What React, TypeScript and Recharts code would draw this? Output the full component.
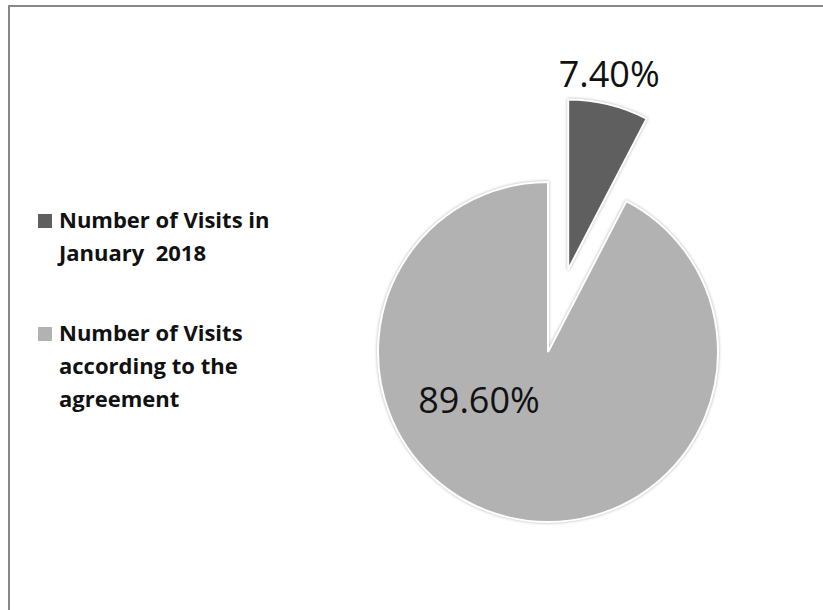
import { PieChart, Pie, Cell, Legend } from "recharts";

const categories = ["Number of Visits in January  2018", "Number of Visits according to the agreement"];
const shares = [7.4, 89.6];
const labels = ["7.40%", "89.60%"];
const colors = ["#5f5f5f", "#b2b2b2"];

const data = categories.map((name, i) => ({ name, value: shares[i] }));

const CX = 548;
const CY = 352;
const RADIUS = 170;
const EXPLODE = 85;

// centre of the pulled-out slice: move along the slice bisector
const total = shares.reduce((a, b) => a + b, 0);
const bisector = ((shares[0] / total) * 360) / 2;
const exCx = CX + EXPLODE * Math.sin((bisector * Math.PI) / 180);
const exCy = CY - EXPLODE * Math.cos((bisector * Math.PI) / 180);

// label placement relative to each slice's centre (Excel best-fit look)
const labelOffsets = [
  { dx: 41, dy: -182 },
  { dx: -69, dy: 61 },
];

const labelFont = "'Open Sans', 'Liberation Sans', sans-serif";

function renderLabel(onlyIndex: number) {
  return (props: any) => {
    const { cx, cy, index } = props;
    if (index !== onlyIndex) return null;
    const o = labelOffsets[index];
    return (
      <text
        key={`lbl-${index}`}
        x={cx + o.dx}
        y={cy + o.dy}
        textAnchor="middle"
        fill="#111"
        fontSize={36}
        fontFamily={labelFont}
      >
        {labels[index]}
      </text>
    );
  };
}

function LegendBox() {
  return (
    <div style={{ fontFamily: labelFont, fontWeight: 700, fontSize: 22, color: "#111" }}>
      {categories.map((name, i) => (
        <div key={name} style={{ display: "flex", alignItems: "flex-start", marginBottom: 47 }}>
          <div
            style={{
              width: 14,
              height: 14,
              marginTop: 11,
              marginRight: 7,
              flexShrink: 0,
              background: colors[i],
            }}
          />
          <div style={{ width: 215, lineHeight: "33px", whiteSpace: "pre-wrap" }}>{name}</div>
        </div>
      ))}
    </div>
  );
}

const sectorShadow = { filter: "drop-shadow(0 0 1.5px rgba(0,0,0,0.3))" };

export default function App() {
  return (
    <div
      style={{
        position: "absolute",
        left: 0,
        top: 0,
        width: 823,
        height: 610,
        overflow: "hidden",
        background: "#fff",
      }}
    >
      <div
        style={{
          position: "absolute",
          left: 8,
          top: 5,
          width: 840,
          height: 640,
          borderTop: "2px solid #878787",
          borderLeft: "2px solid #878787",
        }}
      />
      <div style={{ position: "absolute", left: 0, top: 0 }}>
        <PieChart width={823} height={610} margin={{ top: 0, right: 0, bottom: 0, left: 0 }}>
          <Pie
            data={data}
            dataKey="value"
            nameKey="name"
            cx={CX}
            cy={CY}
            outerRadius={RADIUS}
            startAngle={90}
            endAngle={-270}
            stroke="#fff"
            strokeWidth={2}
            labelLine={false}
            label={renderLabel(1)}
            isAnimationActive={false}
          >
            {data.map((d, i) => (
              <Cell
                key={d.name}
                fill={colors[i]}
                fillOpacity={i === 0 ? 0 : 1}
                strokeOpacity={i === 0 ? 0 : 1}
                style={i === 0 ? undefined : sectorShadow}
              />
            ))}
          </Pie>
          <Pie
            data={data}
            dataKey="value"
            nameKey="name"
            cx={exCx}
            cy={exCy}
            outerRadius={RADIUS}
            startAngle={90}
            endAngle={-270}
            stroke="#fff"
            strokeWidth={2}
            labelLine={false}
            label={renderLabel(0)}
            legendType="none"
            isAnimationActive={false}
          >
            {data.map((d, i) => (
              <Cell
                key={d.name}
                fill={colors[i]}
                fillOpacity={i === 0 ? 1 : 0}
                strokeOpacity={i === 0 ? 1 : 0}
                style={i === 0 ? sectorShadow : undefined}
              />
            ))}
          </Pie>
          <Legend
            layout="vertical"
            align="center"
            verticalAlign="middle"
            wrapperStyle={{ left: 38, top: 203, width: 250 }}
            content={() => <LegendBox />}
          />
        </PieChart>
      </div>
    </div>
  );
}
